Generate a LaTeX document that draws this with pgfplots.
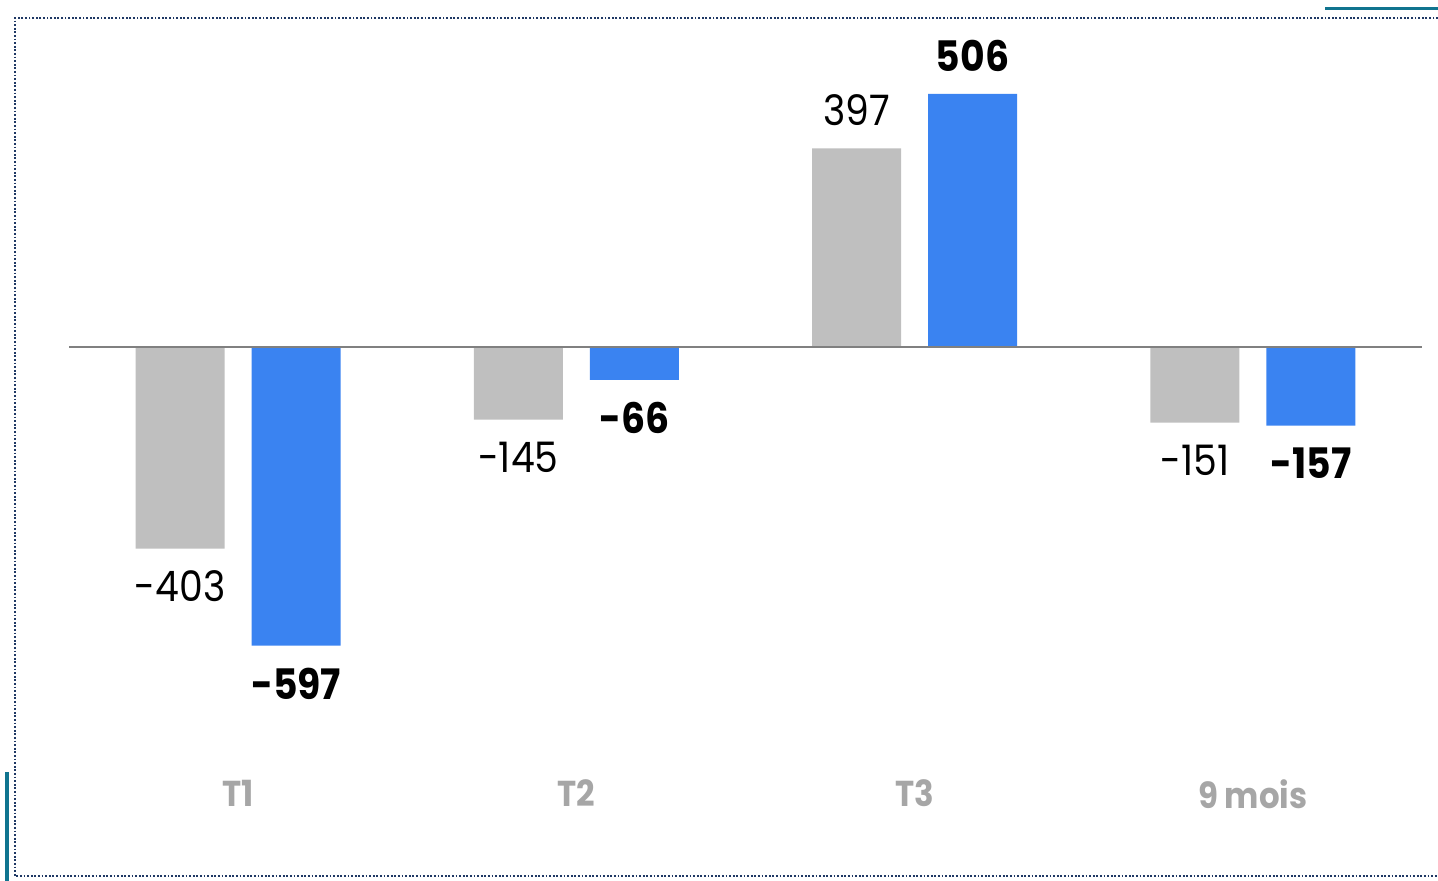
\documentclass[border=0pt]{standalone}
\usepackage{pgfplots}
\pgfplotsset{compat=1.18}
\usepackage{fontspec}
\setmainfont[FakeStretch=0.9]{Poppins}
\definecolor{barGray}{HTML}{BFBFBF}
\definecolor{barBlue}{HTML}{3A83F1}
\definecolor{catGray}{HTML}{A6A6A6}
\definecolor{frameNavy}{HTML}{1F3864}
\definecolor{teal}{HTML}{10748F}
\definecolor{zeroLine}{HTML}{808080}
\begin{document}
\begin{tikzpicture}
\useasboundingbox (0,0) rectangle (719pt,-440.5pt);
\begin{scope}[x=0.5pt,y=-0.5pt]
\draw[frameNavy, line width=0.8pt, dash pattern=on 0.9pt off 0.9pt] (1438,18) -- (15,18) -- (15,876) -- (1438,876);
\fill[teal] (1325,7) rectangle (1438,10.5);
\fill[teal] (5,772) rectangle (8.5,881);
\end{scope}
\begin{axis}[
  at={(34.5pt,-385pt)}, anchor=south west,
  scale only axis, width=676.5pt, height=374pt,
  xmin=-0.5, xmax=3.5, ymin=-846, ymax=650,
  ybar=13.5pt, bar width=44.5pt,
  axis line style={draw=none}, tick style={draw=none},
  ytick=\empty,
  xtick={0,1,2,3}, xticklabels={T1,T2,T3,9 mois},
  xticklabel style={anchor=north, inner sep=0pt, yshift=-0.5pt, text=catGray, font=\fontsize{18}{22}\selectfont\bfseries},
  clip=false,
  nodes near coords,
  /pgf/number format/assume math mode=true,
  every node near coord/.append style={inner ysep=11pt, font=\fontsize{21}{25}\selectfont, text=black},
]
\addplot[fill=barGray, draw=none] coordinates {(0,-403) (1,-145) (2,397) (3,-151)};
\addplot[fill=barBlue, draw=none, every node near coord/.append style={font=\fontsize{21}{25}\selectfont\bfseries}] coordinates {(0,-597) (1,-66) (2,506) (3,-157)};
\draw[zeroLine, line width=1pt] (axis cs:-0.5,0) -- (axis cs:3.5,0);
\end{axis}
\end{tikzpicture}
\end{document}
